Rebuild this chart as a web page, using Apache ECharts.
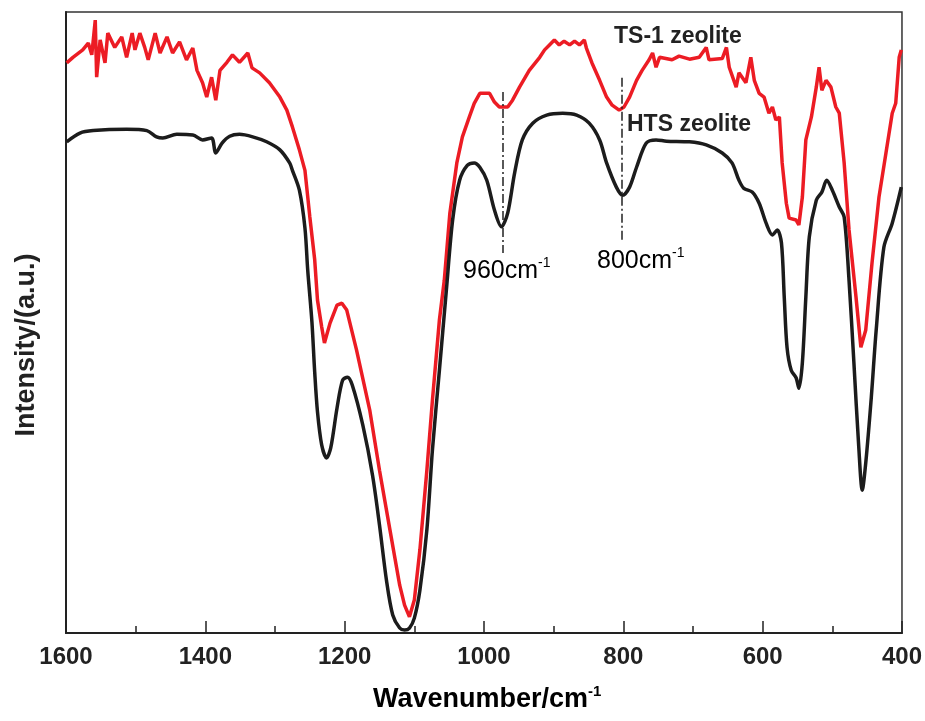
<!DOCTYPE html>
<html>
<head>
<meta charset="utf-8">
<script src="https://cdn.jsdelivr.net/npm/echarts@6/dist/echarts.min.js"></script>
<style>html,body{margin:0;padding:0;background:#fff}#c{width:925px;height:721px}</style>
</head>
<body>
<div id="c"></div>
<script>
// ---- data (wavenumber in cm^-1, intensity in a.u.) ----
const xTicks = [1600, 1400, 1200, 1000, 800, 600, 400];

const htsWn = [1599,1580,1561,1513,1484,1470,1461,1441,1418,1404,1391,1385,1376,1365,1351,1332,1312,1293,1279,1275,1265,1257,1253,1247,1243,1239,1233,1226,1220,1211,1203,1196,1189,1174,1160,1150,1140,1131,1121,1114,1107,1100,1092,1082,1074,1064,1054,1045,1035,1024,1014,1006,996,985,975,966,956,945,930,910,887,867,849,834,824,810,801,791,781,767,753,738,705,681,658,644,634,627,615,605,595,586,579,573,569,565,559,552,548,543,538,533,523,515,508,500,490,483,476,469,462,457,452,444,437,426,414,401];
const htsVal = [79.1,80.5,80.9,81.1,80.9,79.9,79.7,80.3,80.2,79.4,79.7,77.3,78.9,80.0,80.3,79.9,79.1,77.8,75.7,74.5,71.3,65.2,58.4,50.1,42.0,35.6,30.3,28.2,29.8,36.2,40.7,41.2,39.9,33.5,25.4,17.4,8.5,2.9,0.8,0.5,0.8,2.4,6.9,16.6,29.5,42.3,55.2,66.5,72.9,75.3,75.7,75.0,72.9,68.1,65.4,67.6,74.1,79.4,82.1,83.4,83.7,83.4,82.1,79.4,75.7,71.8,70.5,71.8,75.0,78.9,79.4,79.2,79.1,78.6,77.3,75.7,72.9,71.6,71.0,69.2,66.0,64.1,64.9,62.8,54.1,46.0,42.3,41.1,39.4,43.5,54.1,63.8,69.7,71.0,72.9,71.3,68.6,67.0,56.8,43.5,29.9,23.0,27.4,38.0,48.8,62.1,66.0,71.8];

const ts1Wn = [1599,1590,1576,1568,1563,1558,1556,1551,1544,1540,1530,1520,1513,1505,1501,1494,1487,1482,1472,1465,1455,1447,1437,1427,1418,1412,1404,1398,1391,1385,1379,1369,1361,1351,1339,1333,1322,1308,1293,1283,1275,1265,1257,1250,1243,1239,1233,1229,1221,1211,1204,1197,1183,1164,1150,1135,1121,1114,1107,1100,1092,1082,1074,1064,1057,1049,1039,1031,1021,1014,1006,992,985,978,966,959,949,935,920,913,906,899,892,885,877,870,863,856,853,845,834,824,816,806,799,791,781,773,763,758,753,748,730,720,705,691,681,677,658,652,648,638,634,624,617,612,605,598,591,586,581,576,572,566,562,552,548,543,538,530,523,519,515,509,502,495,490,483,476,466,459,452,443,433,423,414,409,404,401];
const ts1Val = [91.8,92.7,93.9,95.0,93.1,98.7,89.5,95.5,91.8,96.6,94.3,96.0,92.7,96.6,93.9,96.6,94.3,92.3,96.6,93.4,96.0,93.4,95.2,92.3,94.2,90.6,88.6,86.3,89.5,85.8,90.6,91.9,93.1,91.9,93.4,91.0,90.2,88.6,86.3,84.2,81.5,77.8,74.5,67.0,60.1,53.6,49.3,46.7,49.9,52.8,53.1,52.0,45.6,35.9,26.2,16.6,7.7,4.5,2.6,5.3,13.4,26.2,37.5,50.4,56.8,67.6,75.7,79.9,83.1,85.3,86.9,86.9,85.5,84.7,84.7,85.8,87.9,90.6,92.7,93.9,94.7,95.5,94.7,95.3,94.7,95.3,94.7,95.5,94.2,91.8,89.0,86.3,85.0,84.2,84.7,86.3,89.0,90.6,92.3,93.4,91.1,92.7,92.3,92.9,92.4,92.7,94.3,92.3,92.5,94.3,91.1,87.9,90.2,88.6,92.7,89.0,86.9,86.3,83.7,84.7,82.6,83.1,75.7,69.2,66.8,66.5,65.7,70.2,79.4,83.1,87.9,91.1,87.4,89.0,87.9,84.7,83.7,75.7,64.9,54.1,46.0,48.8,59.6,70.2,77.3,83.7,85.3,92.7,93.9];

const bandPos = [973, 802];
const bandLabels = ['960cm', '800cm'];
const bandTop = [87.1, 89.4];
const bandBottom = [61.2, 63.3];
const seriesNames = ['HTS zeolite', 'TS-1 zeolite'];

const zip = (a, b) => a.map((v, i) => [v, b[i]]);
const FONT = "'Liberation Sans Narrow', 'Liberation Sans', Arial, sans-serif";

const chart = echarts.init(document.getElementById('c'), null, {renderer: 'canvas'});
chart.setOption({
  animation: false,
  backgroundColor: '#fff',
  grid: {left: 66, right: 22, top: 12, bottom: 88, show: true, borderColor: '#333', borderWidth: 1.5, backgroundColor: 'transparent'},
  xAxis: {
    type: 'value', inverse: true, min: 400, max: 1600, interval: 200,
    axisLine: {show: true, onZero: false, lineStyle: {color: '#222', width: 2}},
    axisTick: {show: true, inside: true, length: 12, lineStyle: {color: '#222', width: 1.5}},
    minorTick: {show: true, splitNumber: 2, length: 7, lineStyle: {color: '#222', width: 1.5}},
    splitLine: {show: false},
    axisLabel: {margin: 12, fontFamily: FONT, fontWeight: 'bold', fontSize: 24, color: '#222',
      formatter: v => xTicks.includes(v) ? String(v) : ''}
  },
  yAxis: {
    type: 'value', min: 0, max: 100,
    axisLine: {show: true, lineStyle: {color: '#222', width: 2}},
    axisTick: {show: false}, axisLabel: {show: false}, splitLine: {show: false}
  },
  series: [
    {name: seriesNames[0], type: 'line', data: zip(htsWn, htsVal), showSymbol: false, smooth: 0.3,
     lineStyle: {color: '#1c1c1c', width: 3.5}, z: 3,
     markLine: {silent: true, symbol: 'none', label: {show: false},
       lineStyle: {color: '#222', width: 1.5, type: [9, 3, 2, 3]},
       data: bandPos.map((p, i) => [{coord: [p, bandTop[i]]}, {coord: [p, bandBottom[i]]}])}},
    {name: seriesNames[1], type: 'line', data: zip(ts1Wn, ts1Val), showSymbol: false,
     lineStyle: {color: '#ec1c24', width: 3.5}, z: 2}
  ],
  graphic: [
    {type: 'text', left: 614, top: 25, style: {text: seriesNames[1], font: "bold 23px " + FONT, fill: '#222'}},
    {type: 'text', left: 627, top: 113, style: {text: seriesNames[0], font: "bold 23px " + FONT, fill: '#222'}},
    {type: 'text', left: 463, top: 256, style: {text: '{a|' + bandLabels[0] + '}{b|-1}',
      rich: {a: {fontFamily: FONT, fontSize: 25, color: '#222'}, b: {fontFamily: FONT, fontSize: 14, color: '#222', verticalAlign: 'top', lineHeight: 30}}}},
    {type: 'text', left: 597, top: 246, style: {text: '{a|' + bandLabels[1] + '}{b|-1}',
      rich: {a: {fontFamily: FONT, fontSize: 25, color: '#222'}, b: {fontFamily: FONT, fontSize: 14, color: '#222', verticalAlign: 'top', lineHeight: 30}}}},
    {type: 'text', left: 373, top: 684, style: {text: '{a|Wavenumber/cm}{b|-1}',
      rich: {a: {fontFamily: FONT, fontWeight: 'bold', fontSize: 27, color: '#222'}, b: {fontFamily: FONT, fontWeight: 'bold', fontSize: 15, color: '#222', verticalAlign: 'top', lineHeight: 32}}}},
    {type: 'text', x: 27, y: 345, rotation: Math.PI / 2,
      style: {text: 'Intensity/(a.u.)', font: "bold 27px " + FONT, fill: '#222', align: 'center', verticalAlign: 'middle'}}
  ]
});
</script>
</body>
</html>
